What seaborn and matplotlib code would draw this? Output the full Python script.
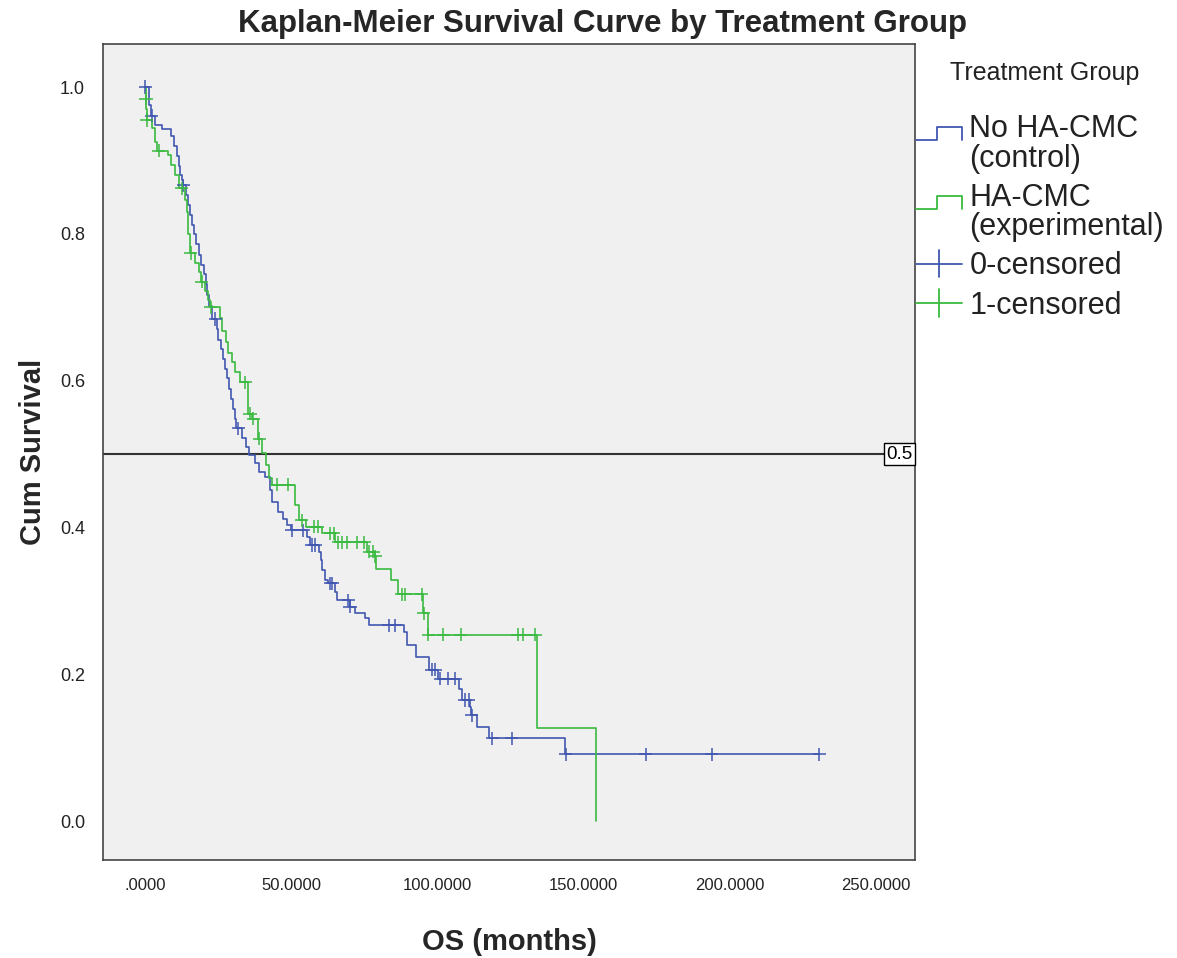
import numpy as np
import pandas as pd
import matplotlib
matplotlib.use("Agg")
import matplotlib.pyplot as plt
import matplotlib.transforms as mtransforms
from matplotlib.lines import Line2D
from matplotlib.legend_handler import HandlerBase
import seaborn as sns

# ---------------- data ----------------
group_names = ["No HA-CMC\n(control)", "HA-CMC\n(experimental)"]
censor_names = ["0-censored", "1-censored"]

control_time = [0, 1.2, 2.0, 3.5, 5.7, 9.0, 10.0, 10.8, 11.5, 12.0, 12.6, 13.0, 14.0, 14.7,
                15.4, 16.0, 16.7, 17.5, 18.3, 19.2, 20.0, 20.8, 21.3, 22.0, 23.0, 24.6, 25.0,
                25.8, 26.6, 27.2, 28.0, 28.6, 29.3, 30.0, 30.6, 31.2, 33.0, 34.5, 35.5, 37.5,
                39.0, 41.0, 42.7, 43.5, 45.5, 47.0, 48.5, 49.8, 55.3, 56.5, 59.5, 60.0, 60.6,
                61.5, 62.5, 65.0, 65.7, 70.0, 71.8, 75.2, 76.7, 88.6, 89.5, 92.5, 97.0, 100.0,
                107.5, 108.5, 111.2, 111.6, 113.5, 117.5, 143.6, 230.6]
control_surv = [1.0, 0.975, 0.961, 0.948, 0.943, 0.933, 0.920, 0.906, 0.893, 0.880, 0.873,
                0.866, 0.853, 0.839, 0.826, 0.812, 0.800, 0.786, 0.771, 0.757, 0.745, 0.731,
                0.717, 0.702, 0.684, 0.670, 0.656, 0.643, 0.630, 0.616, 0.603, 0.589, 0.575,
                0.562, 0.548, 0.535, 0.522, 0.510, 0.499, 0.488, 0.476, 0.469, 0.451, 0.435,
                0.421, 0.412, 0.403, 0.396, 0.387, 0.376, 0.366, 0.356, 0.342, 0.328, 0.324,
                0.312, 0.301, 0.292, 0.283, 0.276, 0.267, 0.258, 0.240, 0.224, 0.206, 0.194,
                0.180, 0.165, 0.156, 0.144, 0.128, 0.113, 0.091, 0.091]
control_censor_time = [0.0, 2.3, 13.1, 24.0, 31.9, 50.2, 54.1, 57.0, 58.1, 63.3, 64.0, 69.5,
                       70.1, 83.4, 85.5, 98.0, 99.2, 100.9, 103.7, 106.0, 109.4, 110.6, 111.7,
                       118.8, 125.4, 143.9, 171.2, 193.8, 230.6]

exp_time = [0, 0.2, 0.4, 0.5, 2.3, 3.4, 4.0, 7.8, 9.0, 10.2, 11.7, 13.8, 14.2, 14.5, 14.8,
            15.3, 17.0, 18.5, 19.2, 20.5, 21.5, 22.2, 25.5, 26.2, 27.5, 28.5, 29.7, 30.8, 32.5,
            35.2, 36.5, 38.5, 40.0, 41.5, 42.5, 43.3, 51.3, 52.5, 55.0, 60.5, 65.0, 76.0, 78.5,
            78.8, 84.0, 86.5, 95.0, 96.6, 134.0, 154.2]
exp_surv = [1.0, 0.984, 0.970, 0.955, 0.944, 0.925, 0.913, 0.907, 0.894, 0.880, 0.862, 0.846,
            0.830, 0.815, 0.800, 0.774, 0.760, 0.748, 0.735, 0.722, 0.710, 0.700, 0.685, 0.667,
            0.652, 0.637, 0.625, 0.612, 0.598, 0.555, 0.548, 0.521, 0.501, 0.485, 0.467, 0.458,
            0.430, 0.410, 0.401, 0.392, 0.380, 0.367, 0.361, 0.344, 0.328, 0.309, 0.283, 0.254,
            0.127, 0.0]
exp_censor_time = [0.3, 0.6, 4.6, 12.5, 15.6, 19.4, 22.5, 34.2, 35.9, 37.0, 39.1, 45.0, 49.0,
                   53.6, 57.6, 59.0, 63.4, 64.5, 66.0, 67.5, 69.0, 72.4, 74.9, 76.7, 78.0, 78.7,
                   87.8, 88.9, 94.6, 95.3, 96.9, 102.0, 108.0, 127.5, 129.4, 133.4]

x_ticks = [0, 50, 100, 150, 200, 250]
x_tick_labels = [".0000", "50.0000", "100.0000", "150.0000", "200.0000", "250.0000"]
y_ticks = [0.0, 0.2, 0.4, 0.6, 0.8, 1.0]
y_tick_labels = ["0.0", "0.2", "0.4", "0.6", "0.8", "1.0"]
reference_level = 0.5

title_text = "Kaplan-Meier Survival Curve by Treatment Group"
x_label = "OS (months)"
y_label = "Cum Survival"
legend_title = "Treatment Group"

# ---------------- tables ----------------
steps = pd.concat([
    pd.DataFrame({"time": control_time, "surv": control_surv, "group": group_names[0]}),
    pd.DataFrame({"time": exp_time, "surv": exp_surv, "group": group_names[1]}),
], ignore_index=True)


def surv_at(times, step_t, step_s):
    idx = np.searchsorted(np.asarray(step_t), np.asarray(times), side="right") - 1
    return np.asarray(step_s)[idx]


censors = pd.concat([
    pd.DataFrame({"time": control_censor_time,
                  "surv": surv_at(control_censor_time, control_time, control_surv),
                  "group": censor_names[0]}),
    pd.DataFrame({"time": exp_censor_time,
                  "surv": surv_at(exp_censor_time, exp_time, exp_surv),
                  "group": censor_names[1]}),
], ignore_index=True)

# ---------------- style ----------------
sns.set_style("white")
plt.rcParams["font.family"] = ["Liberation Sans", "DejaVu Sans"]

BLUE = "#4157b0"
GREEN = "#3aba40"
line_pal = {group_names[0]: BLUE, group_names[1]: GREEN}
cens_pal = {censor_names[0]: BLUE, censor_names[1]: GREEN}

W, H = 1177, 958
fig = plt.figure(figsize=(W / 100, H / 100), dpi=100)
fig.patch.set_facecolor("white")
ax = fig.add_axes([103 / W, 1 - 860 / H, (915 - 103) / W, (860 - 44) / H])
ax.set_facecolor("#f0f0f0")

sns.lineplot(data=steps, x="time", y="surv", hue="group", palette=line_pal,
             drawstyle="steps-post", estimator=None, sort=False, linewidth=1.2,
             legend=False, ax=ax)
sns.scatterplot(data=censors, x="time", y="surv", hue="group", palette=cens_pal,
                marker="+", s=90, linewidth=1.1, legend=False, ax=ax, zorder=3)

ax.axhline(reference_level, color="#333333", linewidth=1.5, zorder=1)
ref_trans = mtransforms.blended_transform_factory(ax.transAxes, ax.transData)
ax.text(0.997, reference_level, f"{reference_level:g}", transform=ref_trans,
        ha="right", va="center", fontsize=13.5, color="black",
        bbox=dict(boxstyle="square,pad=0.12", facecolor="white", edgecolor="black", linewidth=1.0))

ax.set_xlim(-14.4, 263.3)
ax.set_ylim(-0.053, 1.0586)
ax.set_xticks(x_ticks)
ax.set_xticklabels(x_tick_labels)
ax.set_yticks(y_ticks)
ax.set_yticklabels(y_tick_labels)
ax.tick_params(axis="both", direction="out", length=5, width=1, color="#444444",
               labelcolor="#222222", pad=8)
ax.tick_params(axis="x", labelsize=12)
ax.tick_params(axis="y", labelsize=13)
for sp in ax.spines.values():
    sp.set_color("#444444")
    sp.set_linewidth(1.2)

ax.set_xlabel(x_label, fontsize=21, fontweight="bold", labelpad=25)
ax.set_ylabel(y_label, fontsize=21, fontweight="bold", labelpad=9)
fig.text(603 / W, 1 - 24 / H, title_text, ha="center", va="center",
         fontsize=22.5, fontweight="bold")


# ---------------- legend ----------------
class StepHandler(HandlerBase):
    def create_artists(self, legend, orig_handle, xdescent, ydescent, width, height,
                       fontsize, trans):
        x0 = -xdescent
        x1 = x0 + width
        xm = x0 + 0.45 * width
        yc = -ydescent + 0.5 * height + 0.36 * fontsize
        ylo = yc - 0.21 * fontsize
        yhi = yc + 0.21 * fontsize
        ln = Line2D([x0, xm, xm, x1, x1], [ylo, ylo, yhi, yhi, ylo],
                    color=orig_handle.get_color(), linewidth=1.3)
        ln.set_transform(trans)
        return [ln]


class CensorHandler(HandlerBase):
    def create_artists(self, legend, orig_handle, xdescent, ydescent, width, height,
                       fontsize, trans):
        x0 = -xdescent
        x1 = x0 + width
        xm = x0 + 0.5 * width
        yc = -ydescent + 0.5 * height
        h = Line2D([x0, x1], [yc, yc], color=orig_handle.get_color(), linewidth=1.3)
        v = Line2D([xm, xm], [yc - 0.45 * fontsize, yc + 0.45 * fontsize],
                   color=orig_handle.get_color(), linewidth=1.3)
        h.set_transform(trans)
        v.set_transform(trans)
        return [h, v]


hs = [Line2D([], [], color=BLUE), Line2D([], [], color=GREEN),
      Line2D([], [], color=BLUE), Line2D([], [], color=GREEN)]
hmap = {hs[0]: StepHandler(), hs[1]: StepHandler(), hs[2]: CensorHandler(), hs[3]: CensorHandler()}
leg = ax.legend(hs, group_names + censor_names, handler_map=hmap,
                loc="upper left", bbox_to_anchor=(916 / W, 1 - 114 / H),
                bbox_transform=fig.transFigure, frameon=False, fontsize=22,
                handlelength=1.5, handletextpad=0.25,
                labelspacing=0.3, borderaxespad=0, borderpad=0)
for t in leg.get_texts():
    t.set_linespacing(0.98)
    t.set_color("#222222")
fig.text(1045 / W, 1 - 73 / H, legend_title, ha="center", va="center",
         fontsize=18, color="#222222")

fig.savefig("out.png", dpi=100)
